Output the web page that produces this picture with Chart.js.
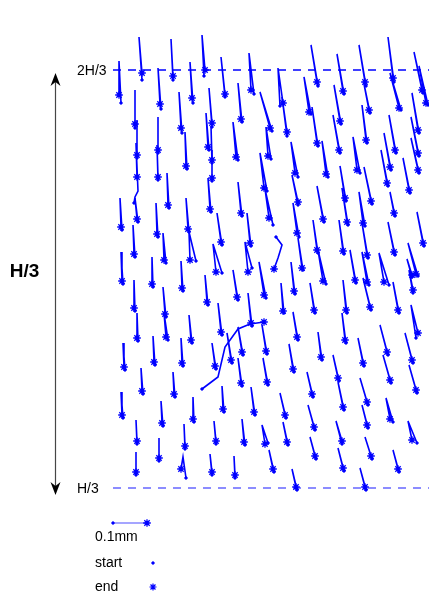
<!DOCTYPE html>
<html>
<head>
<meta charset="utf-8">
<script src="https://cdn.jsdelivr.net/npm/chart.js@4/dist/chart.umd.min.js"></script>
<style>
  html, body { margin: 0; padding: 0; background: #fff; }
  #wrap { position: relative; width: 429px; height: 608px; }
</style>
</head>
<body>
<div id="wrap"><canvas id="myChart"></canvas></div>
<script>
// particle tracks: [startX, startY, topX, topY, endX, endY] in frame units (y grows downward)
const tracks = [
    [121,103, 119,61, 119,95], [142,80, 139,37, 142,73], [161,109, 158,68, 160,104],
    [173,80, 171,39, 173,76], [193,103, 190,62, 192,98], [204,76, 202,35, 205,70],
    [225,97, 221,57, 225,94], [254,94, 249,53, 251,90], [280,106, 278,68, 283,103],
    [311,114, 304,77, 309,112], [318,86, 311,45, 317,82], [344,94, 337,54, 343,91],
    [366,86, 359,45, 365,82], [370,113, 364,84, 369,110], [394,82, 388,37, 393,78],
    [401,110, 390,73, 399,108], [423,93, 414,52, 422,90], [428,105, 419,66, 426,103],
    [135,128, 135,90, 135,124], [182,133, 179,92, 181,128], [212,127, 209,88, 212,123],
    [242,122, 238,83, 241,119], [272,131, 260,92, 270,128], [287,136, 282,97, 287,132],
    [341,124, 334,85, 340,121], [367,143, 362,105, 366,140], [419,133, 412,93, 418,130],
    [318,146, 312,107, 317,143], [137,158, 137,120, 137,155], [158,153, 158,117, 158,150],
    [209,150, 206,113, 208,147], [212,163, 211,126, 212,160], [238,160, 233,122, 236,157],
    [271,159, 266,127, 268,156], [340,153, 333,115, 339,150], [396,153, 389,115, 395,150],
    [419,156, 411,117, 418,153], [158,180, 157,145, 158,177], [212,181, 212,150, 212,178],
    [187,169, 185,132, 186,166], [298,177, 291,142, 295,173], [328,177, 322,141, 326,174],
    [360,173, 353,137, 357,170], [391,170, 384,133, 390,167], [419,173, 411,138, 418,170],
    [267,191, 260,153, 264,188], [388,186, 381,150, 387,183], [410,193, 403,158, 409,190],
    [372,204, 364,167, 371,201], [346,201, 340,166, 345,198], [169,208, 167,173, 168,205],
    [298,205, 292,175, 298,202], [211,212, 208,178, 210,209], [242,216, 238,182, 241,213],
    [324,222, 317,186, 323,219], [395,216, 390,192, 394,213], [138,222, 135,198, 137,219],
    [365,226, 359,192, 363,223], [348,225, 342,188, 347,222], [273,225, 265,189, 269,218],
    [122,230, 120,198, 121,227], [158,237, 156,203, 157,234], [189,232, 186,198, 188,229],
    [299,237, 293,203, 297,233], [222,245, 217,213, 221,242], [251,246, 247,213, 250,243],
    [424,246, 417,212, 423,243], [318,253, 313,220, 317,250], [344,254, 339,220, 343,251],
    [395,255, 388,222, 394,252], [368,258, 362,223, 367,255], [135,257, 133,225, 134,254],
    [166,263, 163,233, 164,260], [196,261, 189,232, 190,260], [222,273, 213,244, 216,272],
    [252,268, 245,242, 248,272], [303,270, 298,238, 302,268], [418,276, 408,243, 416,274],
    [412,277, 407,259, 412,275], [123,284, 121,252, 122,281], [153,287, 152,257, 152,284],
    [183,291, 181,261, 182,288], [238,300, 233,270, 237,297], [266,298, 259,262, 264,295],
    [295,294, 291,262, 294,291], [326,284, 318,250, 323,281], [356,283, 350,250, 355,280],
    [389,285, 379,253, 384,282], [413,293, 409,270, 413,290], [369,285, 362,252, 367,282],
    [208,305, 205,275, 207,302], [135,311, 134,280, 134,308], [166,317, 163,287, 165,314],
    [284,313, 281,283, 283,311], [315,313, 310,283, 314,310], [347,313, 343,280, 346,310],
    [371,310, 363,278, 370,307], [399,313, 393,282, 398,310], [222,335, 218,303, 221,332],
    [252,326, 248,293, 251,323], [416,338, 411,305, 418,333], [138,341, 137,313, 137,338],
    [168,340, 164,313, 166,337], [192,343, 189,315, 191,340], [298,340, 293,312, 297,337],
    [346,343, 342,313, 345,340], [267,354, 262,325, 266,351], [243,355, 238,327, 242,352],
    [388,355, 380,325, 387,352], [322,360, 318,332, 321,357], [413,363, 405,333, 412,360],
    [364,366, 358,338, 363,363], [232,363, 227,333, 231,360], [183,366, 181,338, 182,363],
    [155,365, 153,336, 154,362], [125,370, 123,343, 124,367], [216,369, 212,343, 215,366],
    [294,372, 289,344, 293,369], [339,381, 333,355, 338,378], [391,383, 383,355, 390,380],
    [268,385, 263,358, 267,382], [242,386, 238,358, 241,383], [143,394, 141,368, 142,391],
    [175,397, 173,372, 174,394], [313,397, 307,372, 312,394], [417,393, 409,365, 416,390],
    [368,405, 360,378, 367,402], [344,410, 338,382, 343,407], [224,412, 222,386, 223,409],
    [255,415, 251,387, 254,412], [286,418, 280,393, 285,415], [123,418, 121,392, 122,415],
    [194,422, 193,397, 193,419], [163,426, 161,401, 162,423], [393,422, 386,398, 390,419],
    [315,430, 308,405, 314,427], [368,428, 362,405, 367,425], [137,444, 136,420, 137,441],
    [185,449, 184,424, 185,446], [216,444, 214,421, 216,441], [245,445, 242,419, 244,442],
    [268,443, 262,425, 265,444], [288,445, 283,422, 287,442], [342,444, 336,421, 342,441],
    [417,443, 408,421, 412,440], [372,459, 365,437, 371,456], [316,459, 310,437, 315,456],
    [159,461, 159,438, 159,458], [136,475, 136,452, 136,472], [186,478, 183,457, 181,469],
    [212,475, 210,454, 212,472], [235,478, 234,456, 235,475], [274,472, 269,450, 273,469],
    [344,471, 338,448, 343,468], [399,472, 393,450, 398,469], [297,490, 292,469, 296,487],
    [366,490, 360,468, 365,487]
];

// the few tracks that wander off the usual up-and-back path
const wiggleTrack = [[134,203], [135,197], [138,191], [136,143], [137,177]];
const loopTrack = [[276,237], [282,245], [278,258], [274,269]];
const driftTrack = [[202,389], [210,383], [218,377], [225,347], [238,329], [250,324], [264,322]];

// reference levels and the span arrow
const levelNames = ['2H/3', 'H/3'];
const levelY = [70, 488];
const levelFromX = 113;
const levelToX = 429;
const spanX = 55;
const spanY = [73, 495];

// legend: 0.1 mm scale bar, start and end markers
const scaleBar = [[113, 523], [147, 523]];
const legendNames = ['0.1mm', 'start', 'end'];
const legendY = [537, 563, 587];
const legendMarkX = 153;

const blue = 'rgb(0, 0, 255)';
const font = 'Arial, "Liberation Sans", sans-serif';

const paths = tracks
    .map(t => [[t[0], t[1]], [t[2], t[3]], [t[4], t[5]]])
    .concat([wiggleTrack, loopTrack, driftTrack]);

function trackDataset(p, color, width) {
    const last = p.length - 1;
    return {
        data: p.map(([x, y]) => ({ x, y })),
        showLine: true,
        borderColor: color,
        borderWidth: width,
        pointStyle: p.map((_, i) => i === last ? 'star' : 'circle'),
        pointRadius: p.map((_, i) => i === 0 ? 1.3 : (i === last ? 3.8 : 0)),
        pointBorderWidth: p.map((_, i) => i === last ? 1.3 : 0.8),
        pointBorderColor: blue,
        pointBackgroundColor: blue,
        clip: false
    };
}

const datasets = paths.map(p => trackDataset(p, blue, 1.6));

levelY.forEach((y, i) => {
    datasets.push({
        data: [{ x: levelFromX, y }, { x: levelToX, y }],
        showLine: true,
        borderColor: i === 0 ? blue : 'rgba(0, 0, 255, 0.6)',
        borderWidth: i === 0 ? 1.5 : 1.5,
        borderDash: [8, 7],
        pointRadius: 0,
        clip: false
    });
});

datasets.push(trackDataset(scaleBar, 'rgba(0, 0, 255, 0.7)', 1.2));
datasets.push({
    data: [{ x: legendMarkX, y: legendY[1] }],
    pointStyle: 'circle', pointRadius: 1.3, pointBorderWidth: 0.8,
    pointBackgroundColor: blue, pointBorderColor: blue, clip: false
});
datasets.push({
    data: [{ x: legendMarkX, y: legendY[2] }],
    pointStyle: 'star', pointRadius: 3.5, pointBorderWidth: 1.2,
    pointBorderColor: blue, clip: false
});

// labels, the double arrow and legend text
const annotations = {
    id: 'annotations',
    afterDatasetsDraw(chart) {
        const c = chart.ctx;
        const sx = chart.scales.x, sy = chart.scales.y;
        c.save();
        c.fillStyle = '#000';
        c.textBaseline = 'middle';
        c.textAlign = 'left';
        c.font = '14px ' + font;
        levelNames.forEach((name, i) => c.fillText(name, sx.getPixelForValue(77), sy.getPixelForValue(levelY[i]) + 1));
        legendNames.forEach((name, i) => c.fillText(name, sx.getPixelForValue(95), sy.getPixelForValue(legendY[i])));

        const ax = Math.round(sx.getPixelForValue(spanX)) + 0.5;
        const top = sy.getPixelForValue(spanY[0]);
        const bottom = sy.getPixelForValue(spanY[1]);
        c.strokeStyle = 'rgb(70, 70, 70)';
        c.lineWidth = 1.2;
        c.beginPath();
        c.moveTo(ax, top + 8);
        c.lineTo(ax, bottom - 8);
        c.stroke();
        c.fillStyle = '#000';
        [[top, 1], [bottom, -1]].forEach(([tip, d]) => {
            c.beginPath();
            c.moveTo(ax, tip);
            c.lineTo(ax - 5, tip + 13 * d);
            c.lineTo(ax, tip + 9 * d);
            c.lineTo(ax + 5, tip + 13 * d);
            c.closePath();
            c.fill();
        });

        c.font = 'bold 19px ' + font;
        c.textAlign = 'center';
        c.fillText('H/3', sx.getPixelForValue(24.5), sy.getPixelForValue(272));
        c.restore();
    }
};

const ctx = document.getElementById('myChart').getContext('2d');
let chart = new Chart(ctx, {
    type: 'scatter',
    data: { datasets },
    options: {
        responsive: true,
        maintainAspectRatio: false,
        animation: false,
        layout: { padding: 0, autoPadding: false },
        plugins: { legend: { display: false }, tooltip: { enabled: false } },
        scales: {
            x: { type: 'linear', min: 0, max: 429, display: false },
            y: { type: 'linear', min: 0, max: 608, reverse: true, display: false }
        }
    },
    plugins: [annotations]
});
</script>
</body>
</html>
